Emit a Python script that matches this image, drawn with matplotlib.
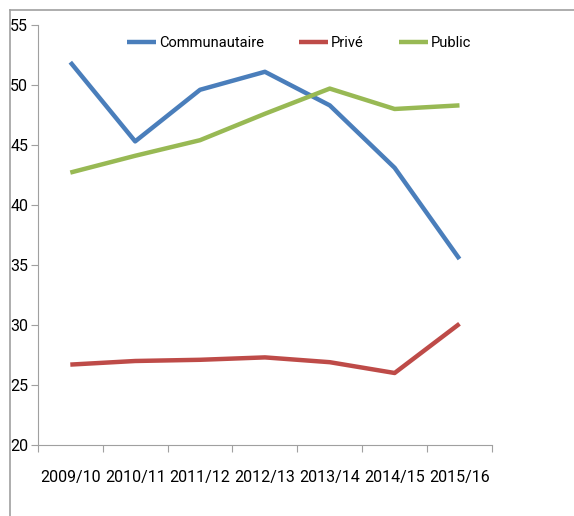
import matplotlib.pyplot as plt
from matplotlib.lines import Line2D

plt.rcParams['font.family'] = ['Roboto', 'DejaVu Sans']

years = ['2009/10', '2010/11', '2011/12', '2012/13', '2013/14', '2014/15', '2015/16']
communautaire = [51.9, 45.3, 49.6, 51.1, 48.3, 43.1, 35.5]
prive = [26.7, 27.0, 27.1, 27.3, 26.9, 26.0, 30.1]
public = [42.7, 44.1, 45.4, 47.6, 49.7, 48.0, 48.3]

fig = plt.figure(figsize=(5.74, 5.16), dpi=100)
ax = fig.add_axes([0.066, 0.1376, 0.791, 0.814])

x = range(len(years))
ax.plot(x, communautaire, color='#4A7EBB', lw=3.2, label='Communautaire', solid_capstyle='butt')
ax.plot(x, prive, color='#BE4B48', lw=3.2, label='Privé', solid_capstyle='butt')
ax.plot(x, public, color='#98B954', lw=3.2, label='Public', solid_capstyle='butt')

ax.set_xlim(-0.5, len(years) - 0.5)
ax.set_ylim(20, 55)
ax.set_yticks(range(20, 56, 5))
ax.set_xticks([i + 0.5 for i in range(-1, len(years))])
ax.set_xticklabels([])
ax.set_xticks(list(x), minor=True)
ax.set_xticklabels(years, minor=True)
ax.tick_params(axis='x', which='minor', length=0, pad=18, labelsize=11.5)
ax.tick_params(axis='x', which='major', length=5, color='#A0A0A0')
ax.tick_params(axis='y', length=5, color='#A0A0A0', labelsize=11.5, pad=2)

for s in ['top', 'right']:
    ax.spines[s].set_visible(False)
for s in ['left', 'bottom']:
    ax.spines[s].set_color('#A0A0A0')

ax.legend(loc='center', bbox_to_anchor=(0.575, 0.957), ncol=3, frameon=False,
          fontsize=10.5, handlelength=2.0, handletextpad=0.2, columnspacing=2.4)

# outer frame of the chart area
fig.add_artist(Line2D([10 / 574, 1], [1 - 10 / 516] * 2, color='#A0A0A0', lw=1.2))
fig.add_artist(Line2D([10 / 574] * 2, [0, 1 - 10 / 516], color='#A0A0A0', lw=1.2))

fig.savefig('out.png', dpi=100)
